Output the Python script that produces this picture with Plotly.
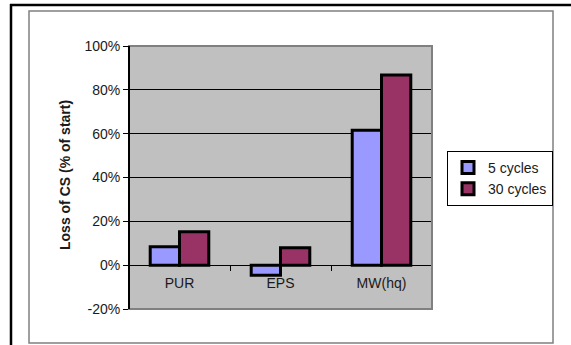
import plotly.graph_objects as go

# Data
categories = ["PUR", "EPS", "MW(hq)"]
cycles_5 = [8.4, -4.6, 61.6]
cycles_30 = [15.2, 7.9, 86.8]
series_names = ["5 cycles", "30 cycles"]
y_ticks = [-20, 0, 20, 40, 60, 80, 100]

W, H = 571, 345
L, R, T, B = 129, 432, 46, 309  # plot area in pixels


def px(x):
    return (x - L) / (R - L)


def py(y):
    return (B - y) / (B - T)


FONT = "Liberation Sans, Arial, sans-serif"
TXT = "#1a1a1a"

fig = go.Figure()
fig.add_trace(go.Bar(
    x=categories, y=cycles_5, name=series_names[0],
    marker=dict(color="#9999FF", line=dict(color="black", width=3)),
))
fig.add_trace(go.Bar(
    x=categories, y=cycles_30, name=series_names[1],
    marker=dict(color="#993366", line=dict(color="black", width=3)),
))

ymin, ymax = y_ticks[0], y_ticks[-1]
zero_pos = (0 - ymin) / (ymax - ymin)

shapes = [
    # outer chart frame
    dict(type="rect", xref="paper", yref="paper",
         x0=px(29), x1=px(553), y0=py(343), y1=py(11),
         line=dict(color="#808080", width=1.5), layer="below"),
    # page lines
    dict(type="line", xref="paper", yref="paper",
         x0=px(10), x1=px(571), y0=py(5), y1=py(5),
         line=dict(color="black", width=2.5)),
    dict(type="line", xref="paper", yref="paper",
         x0=px(11), x1=px(11), y0=py(4), y1=py(346),
         line=dict(color="black", width=2.5)),
    # plot-area border
    dict(type="rect", xref="paper", yref="paper",
         x0=0, x1=1, y0=0, y1=1,
         line=dict(color="#808080", width=2), layer="above"),
    # value axis line
    dict(type="line", xref="paper", yref="paper",
         x0=0, x1=0, y0=0, y1=1,
         line=dict(color="black", width=2), layer="above"),
]

fig.update_layout(
    width=W, height=H,
    margin=dict(l=L, r=W - R, t=T, b=H - B),
    paper_bgcolor="white",
    plot_bgcolor="#C0C0C0",
    barmode="group",
    bargap=0.42,
    bargroupgap=0,
    font=dict(family=FONT, size=14, color=TXT),
    showlegend=True,
    legend=dict(
        x=px(447), y=py(151), xanchor="left", yanchor="top",
        bgcolor="white", bordercolor="black", borderwidth=1,
        font=dict(family=FONT, size=14, color=TXT),
        itemwidth=30, tracegroupgap=0,
    ),
    xaxis=dict(
        type="category",
        anchor="free", position=zero_pos,
        showline=True, linecolor="black", linewidth=1,
        ticks="outside", ticklen=5, tickcolor="black", tickwidth=1,
        tickson="boundaries",
        showgrid=False,
        ticklabelstandoff=5,
        tickfont=dict(family=FONT, size=14, color=TXT),
    ),
    yaxis=dict(
        range=[ymin, ymax],
        tickvals=y_ticks,
        ticktext=[f"{v}%" for v in y_ticks],
        ticks="outside", ticklen=5, tickcolor="black", tickwidth=1,
        showgrid=True, gridcolor="black", gridwidth=1,
        zeroline=True, zerolinecolor="black", zerolinewidth=1,
        showline=False,
        tickfont=dict(family=FONT, size=14, color=TXT),
    ),
    shapes=shapes,
    annotations=[
        dict(text="<b>Loss of CS (% of start)</b>", textangle=-90,
             xref="paper", yref="paper", x=px(65), y=py(175),
             showarrow=False, xanchor="center", yanchor="middle",
             font=dict(family=FONT, size=14, color=TXT)),
    ],
)

fig.write_html("out.html")
